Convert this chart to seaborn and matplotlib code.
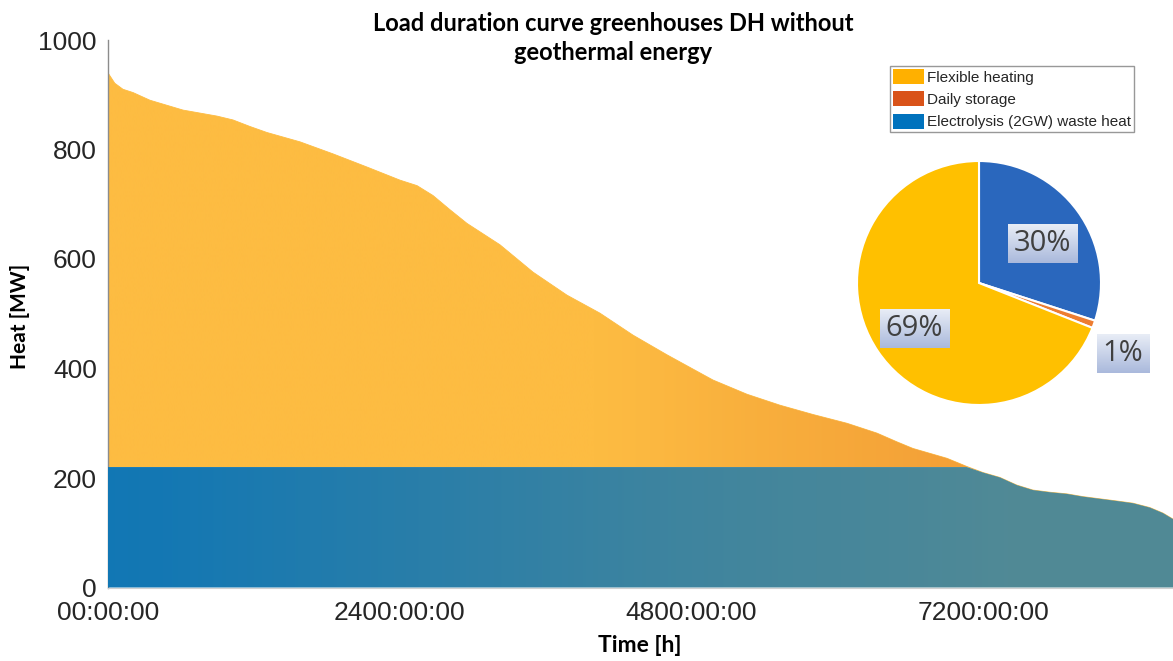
import numpy as np
import matplotlib
matplotlib.use("Agg")
import matplotlib.pyplot as plt
from matplotlib.patches import Patch
import matplotlib.colors as mcolors
import pandas as pd
import seaborn as sns

# Load duration curve: sorted hourly heat demand of the greenhouses (MW)
hours = [0, 56, 123, 206, 345, 617, 897, 1028, 1168, 1308, 1579, 1851, 2130,
         2402, 2542, 2673, 2813, 2953, 3224, 3496, 3775, 4047, 4318, 4598,
         4869, 4976, 5256, 5527, 5799, 6078, 6325, 6490, 6621, 6901, 7065,
         7197, 7337, 7476, 7608, 7748, 7888, 8019, 8159, 8299, 8431, 8570,
         8677, 8760]
demand = [940, 921, 910, 904, 890, 872, 861, 854, 842, 831, 814, 792, 768,
          744, 734, 716, 690, 665, 626, 576, 534, 501, 461, 425,
          392, 379, 353, 333, 316, 300, 282, 266, 254, 236, 221,
          210, 201, 187, 178, 174, 171, 166, 162, 158, 154, 146,
          136, 125]

# Electrolysis (2 GW) waste heat capacity delivered to the network (MW)
waste_heat_cap = 220

# Share of hours with electrolysis waste heat available along the curve
waste_hours = [0, 500, 1500, 2500, 3500, 4500, 5500, 6500, 7500, 8760]
waste_share = [0.93, 0.92, 0.88, 0.84, 0.80, 0.76, 0.73, 0.71, 0.68, 0.68]

# Share of daily-storage discharge within the flexible part along the curve
storage_hours = [0, 4000, 4600, 5400, 6200, 6800, 7100, 8760]
storage_share = [0.0, 0.0, 0.05, 0.13, 0.20, 0.25, 0.25, 0.25]

# Annual heat supply split (%)
pie_labels = ["Electrolysis (2GW) waste heat", "Daily storage", "Flexible heating"]
pie_values = [30, 1, 69]
pie_text = ["30%", "1%", "69%"]

# Legend entries
legend_labels = ["Flexible heating", "Daily storage", "Electrolysis (2GW) waste heat"]

x_ticks = [0, 2400, 4800, 7200]
x_ticklabels = ["00:00:00", "2400:00:00", "4800:00:00", "7200:00:00"]
y_ticks = [0, 200, 400, 600, 800, 1000]

# Colours
c_flex = "#FDBC42"
c_flex_leg = "#FFB000"
c_store = "#D95319"
c_waste = "#0072BD"
pie_colors = ["#2A67BD", "#ED7D31", "#FFC000"]
label_top, label_bottom = "#E8EDF6", "#AAB9DC"

sns.set_theme(style="white")
plt.rcParams["font.family"] = ["Liberation Sans", "DejaVu Sans"]

df = pd.DataFrame({"hour": hours, "demand": demand})
h = np.array(hours, dtype=float)
d = np.array(demand, dtype=float)
base = np.minimum(d, waste_heat_cap)

fig = plt.figure(figsize=(11.73, 6.61), dpi=100)
ax = fig.add_axes([108 / 1173, 1 - 587.5 / 661, 1 - 108 / 1173, (587.5 - 40) / 661])

rgb_flex = np.array(mcolors.to_rgb(c_flex))
rgb_store = np.array(mcolors.to_rgb(c_store))
rgb_waste = np.array(mcolors.to_rgb(c_waste))

# Colour ramps along the time axis (one column per 4 h)
cols = np.linspace(0, 8760, 2191)
w = np.interp(cols, waste_hours, waste_share)[:, None]
s = np.interp(cols, storage_hours, storage_share)[:, None]
low_rgb = (w * rgb_waste + (1 - w) * rgb_flex)[None, :, :]
up_rgb = (s * rgb_store + (1 - s) * rgb_flex)[None, :, :]

# Flexible heating (and daily storage) above the waste-heat band
upper = ax.fill_between(h, base, d, facecolor="none", linewidth=0)
im_up = ax.imshow(up_rgb, extent=[0, 8760, 0, 1000], origin="lower",
                  aspect="auto", interpolation="bilinear", zorder=2)
im_up.set_clip_path(upper.get_paths()[0], transform=ax.transData)

# Electrolysis waste heat band
lower = ax.fill_between(h, 0, base, facecolor="none", linewidth=0)
im_low = ax.imshow(low_rgb, extent=[0, 8760, 0, waste_heat_cap], origin="lower",
                   aspect="auto", interpolation="bilinear", zorder=3)
im_low.set_clip_path(lower.get_paths()[0], transform=ax.transData)

# Upper edge of the load duration curve
sns.lineplot(data=df, x="hour", y="demand", ax=ax, color=c_flex, linewidth=0.6,
             zorder=1, legend=False)

ax.set_xlim(0, 8760)
ax.set_ylim(0, 1000)
ax.set_xticks(x_ticks)
ax.set_xticklabels(x_ticklabels)
ax.set_yticks(y_ticks)
ax.tick_params(axis="both", direction="in", length=5, width=1, color="#9a9a9a",
               labelsize=19, labelcolor="#262626")
ax.tick_params(axis="y", pad=8)
ax.tick_params(axis="x", pad=10)
for side in ["top", "right"]:
    ax.spines[side].set_visible(False)
ax.spines["left"].set_color("#8c8c8c")
ax.spines["left"].set_linewidth(1.0)
ax.spines["bottom"].set_color("#d0d0d0")
ax.spines["bottom"].set_linewidth(0.8)
ax.set_xlabel("")
ax.set_ylabel("")

fig.text(20 / 1173, 1 - 316 / 661, "Heat [MW]", rotation=90, ha="center", va="center",
         fontsize=15, fontweight="bold", family=["Lato", "DejaVu Sans"], color="black")
fig.text(640 / 1173, 1 - 645 / 661, "Time [h]", ha="center", va="center",
         fontsize=16.5, fontweight="bold", family=["Lato", "DejaVu Sans"], color="black")
fig.text(613 / 1173, 1 - 38 / 661, "Load duration curve greenhouses DH without\ngeothermal energy",
         ha="center", va="center", fontsize=17, fontweight="bold",
         family=["Lato", "DejaVu Sans"], color="black", linespacing=1.3)

# Legend
handles = [Patch(facecolor=c_flex_leg, edgecolor="none"),
           Patch(facecolor=c_store, edgecolor="none"),
           Patch(facecolor=c_waste, edgecolor="none")]
leg = fig.legend(handles, legend_labels, loc="upper left",
                 bbox_to_anchor=(890 / 1173, 1 - 66 / 661), fontsize=11,
                 frameon=True, fancybox=False, borderpad=0.2, labelspacing=0.45,
                 handlelength=2.0, handleheight=1.1, handletextpad=0.2,
                 borderaxespad=0)
leg.get_frame().set_edgecolor("#7f7f7f")
leg.get_frame().set_linewidth(1.0)
for t in leg.get_texts():
    t.set_color("#262626")

# Pie of the annual heat supply
r = 122
axp = fig.add_axes([(979 - r) / 1173, 1 - (283 + r) / 661, 2 * r / 1173, 2 * r / 661])
axp.pie(pie_values, colors=pie_colors, startangle=90, counterclock=False,
        wedgeprops=dict(edgecolor="white", linewidth=1.5))
axp.set_xlim(-1.0, 1.0)
axp.set_ylim(-1.0, 1.0)
axp.set_aspect("equal")

# Percentage labels on shaded boxes
label_pos = [(0.52, 0.32), (1.18, -0.58), (-0.53, -0.37)]
texts = []
for txt, (px, py) in zip(pie_text, label_pos):
    texts.append(axp.text(px, py, txt, ha="center", va="center", fontsize=21,
                          family=["Open Sans", "DejaVu Sans"], color="#404040",
                          clip_on=False, zorder=6))
fig.canvas.draw()
renderer = fig.canvas.get_renderer()
shade = np.linspace(0, 1, 64)[:, None, None]
grad = (1 - shade) * np.array(mcolors.to_rgb(label_bottom)) + shade * np.array(mcolors.to_rgb(label_top))
inv = axp.transData.inverted()
for t in texts:
    bb = t.get_window_extent(renderer)
    x0, y0 = inv.transform((bb.x0 - 6, bb.y0 - 5))
    x1, y1 = inv.transform((bb.x1 + 6, bb.y1 + 5))
    axp.imshow(grad, extent=[x0, x1, y0, y1], origin="lower", aspect="auto",
               interpolation="bilinear", zorder=5, clip_on=False)
axp.set_xlim(-1.0, 1.0)
axp.set_ylim(-1.0, 1.0)
axp.set_aspect("equal")
axp.axis("off")

fig.savefig("out.png", dpi=100)
